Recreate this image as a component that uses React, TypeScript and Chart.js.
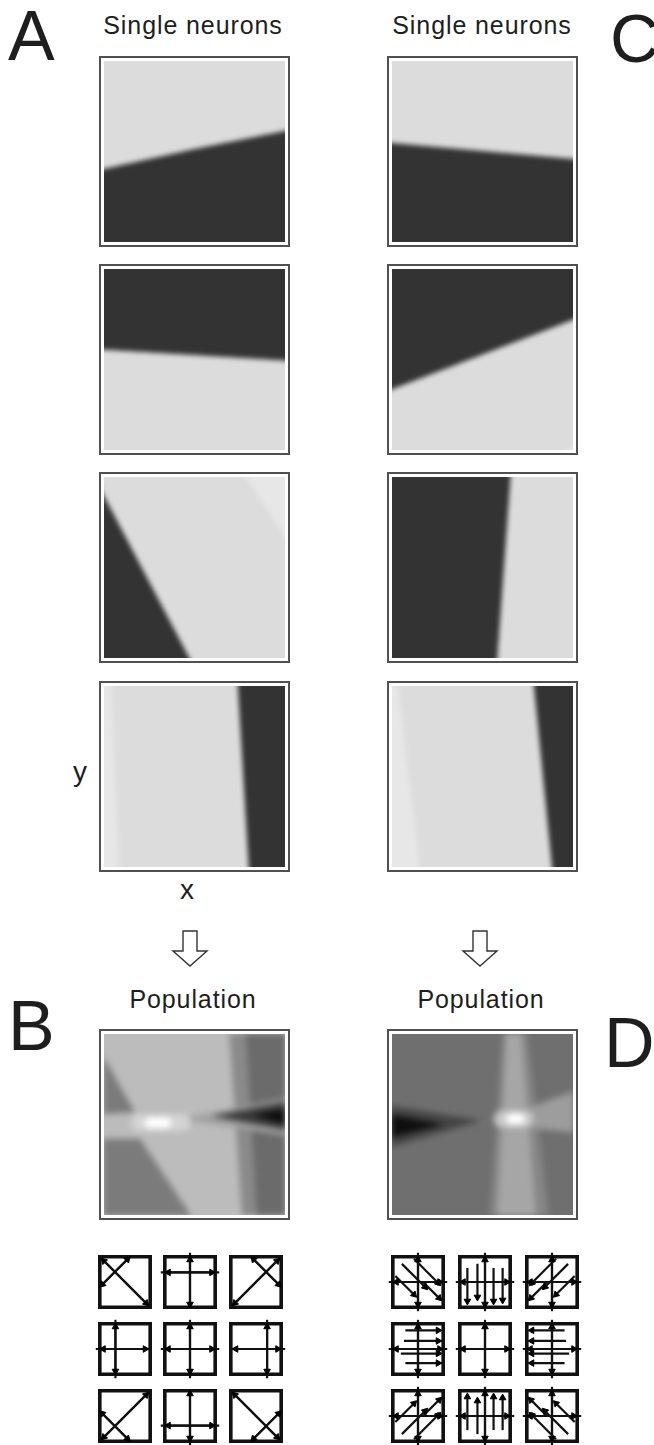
import React, { useEffect, useRef } from "react";
import { Chart, registerables } from "chart.js";

Chart.register(...registerables);

// ---------- DATA (unit coordinates inside each map: x to the right, y upward) ----------
// Single neurons, column A: dark (low-rate) regions and pale patches
const neuronA1Dark = [[0, 0], [0, 0.4], [0.5, 0.51], [1, 0.61], [1, 0]];
const neuronA2Dark = [[0, 1], [0, 0.555], [1, 0.495], [1, 1]];
const neuronA3Dark = [[0, 0], [0, 0.93], [0.49, 0]];
const neuronA3Pale = [[0.74, 1], [1, 1], [1, 0.6]];
const neuronA4Dark = [[0.72, 1], [1, 1], [1, 0], [0.78, 0]];
const neuronA4Pale = [[0, 1], [0.07, 1], [0.11, 0], [0, 0]];
// Single neurons, column C
const neuronC1Dark = [[0, 0], [0, 0.544], [1, 0.456], [1, 0]];
const neuronC2Dark = [[0, 1], [0, 0.336], [1, 0.72], [1, 1]];
const neuronC2Pale = [[0.88, 0], [1, 0], [1, 0.07]];
const neuronC3Dark = [[0, 0], [0, 1], [0.644, 1], [0.571, 0]];
const neuronC4Dark = [[0.76, 1], [1, 1], [1, 0], [0.86, 0]];
const neuronC4Pale = [[0, 1], [0.06, 1], [0.18, 0], [0, 0]];

// Population B
const popBStripMid = [[0.69, 1], [0.78, 1], [0.84, 0], [0.76, 0]];
const popBStripDark = [[0.78, 1], [1, 1], [1, 0], [0.84, 0]];
const popBWedgeUp = [[0, 0.87], [0.17, 0.57], [0, 0.56]];
const popBWedgeLow = [[0, 0], [0, 0.42], [0.2, 0.42], [0.48, 0]];
const popBStreakHalo = [[0.42, 0.53], [1, 0.64], [1, 0.44]];
const popBStreak = [[0.6, 0.545], [1, 0.62], [1, 0.47]];
const popBStreakCore = [[0.82, 0.55], [1, 0.58], [1, 0.5]];
const popBSpotHalo = [[0.2, 0.51], [0.26, 0.51], [0.32, 0.51], [0.38, 0.51], [0.43, 0.51]];
const popBSpotCore = [[0.26, 0.51], [0.3, 0.51], [0.34, 0.51]];

// Population D
const popDBandOuter = [[0.61, 1], [0.74, 1], [0.86, 0], [0.54, 0]];
const popDBandInner = [[0.63, 1], [0.71, 1], [0.79, 0], [0.58, 0]];
const popDArm = [[0.7, 0.57], [1, 0.68], [1, 0.46], [0.7, 0.49]];
const popDStreakHalo = [[0, 0.6], [0.48, 0.52], [0, 0.38]];
const popDStreakCore = [[0, 0.55], [0.28, 0.5], [0, 0.43]];
const popDSpotHalo = [[0.61, 0.53], [0.67, 0.53], [0.73, 0.53]];
const popDSpotCore = [[0.66, 0.53], [0.7, 0.53]];

// Vector-field cells: [x1, y1, x2, y2, heads] heads: 0 none, 1 at end, 2 both ends
const cellFrame = [[0, 0], [1, 0], [1, 1], [0, 1], [0, 0]];
const fieldB00 = [[0, 1, 1, 0, 0], [0.08, 0.92, 0.92, 0.08, 2], [0, 0.4, 0.6, 1, 0], [0.05, 0.45, 0.55, 0.95, 2]];
const fieldB01 = [[0.5, 1.08, 0.5, 0, 0], [0.5, 0.94, 0.5, 0.06, 2], [-0.08, 0.69, 1.08, 0.69, 0], [0.07, 0.69, 0.93, 0.69, 2]];
const fieldB02 = [[1, 1, 0, 0, 0], [0.92, 0.92, 0.08, 0.08, 2], [1, 0.4, 0.4, 1, 0], [0.95, 0.45, 0.45, 0.95, 2]];
const fieldB10 = [[0.31, -0.08, 0.31, 1.08, 0], [0.31, 0.06, 0.31, 0.94, 2], [-0.08, 0.5, 1, 0.5, 0], [0.07, 0.5, 0.9, 0.5, 2]];
const fieldB11 = [[0.5, -0.08, 0.5, 1.08, 0], [0.5, 0.06, 0.5, 0.94, 2], [-0.08, 0.5, 1.08, 0.5, 0], [0.07, 0.5, 0.93, 0.5, 2]];
const fieldB12 = [[0.72, -0.08, 0.72, 1.08, 0], [0.72, 0.06, 0.72, 0.94, 2], [0, 0.5, 1.08, 0.5, 0], [0.1, 0.5, 0.93, 0.5, 2]];
const fieldB20 = [[0, 0, 1, 1, 0], [0.08, 0.08, 0.92, 0.92, 2], [0, 0.6, 0.6, 0, 0], [0.05, 0.55, 0.55, 0.05, 2]];
const fieldB21 = [[0.5, 1, 0.5, -0.08, 0], [0.5, 0.94, 0.5, 0.06, 2], [-0.08, 0.31, 1.08, 0.31, 0], [0.07, 0.31, 0.93, 0.31, 2]];
const fieldB22 = [[1, 0, 0, 1, 0], [0.92, 0.08, 0.08, 0.92, 2], [1, 0.6, 0.4, 0, 0], [0.95, 0.55, 0.45, 0.05, 2]];

const fieldDCross = [[0.5, -0.08, 0.5, 1.08, 0], [0.5, 0.06, 0.5, 0.94, 2], [-0.08, 0.5, 1.08, 0.5, 0], [0.07, 0.5, 0.93, 0.5, 2]];
const fieldD00 = [[0.05, 0.62, 0.42, 0.25, 1], [0.18, 0.86, 0.64, 0.4, 1], [0.42, 0.96, 0.9, 0.48, 1], [0.6, 0.5, 0.92, 0.18, 1]];
const fieldD01 = [[0.15, 0.78, 0.15, 0.12, 1], [0.35, 0.86, 0.35, 0.2, 1], [0.67, 0.78, 0.67, 0.12, 1], [0.85, 0.78, 0.85, 0.14, 1]];
const fieldD02 = [[0.95, 0.62, 0.58, 0.25, 1], [0.82, 0.86, 0.36, 0.4, 1], [0.58, 0.96, 0.1, 0.48, 1], [0.4, 0.5, 0.08, 0.18, 1]];
const fieldD10 = [[0.25, 0.87, 0.9, 0.87, 1], [0.22, 0.66, 0.9, 0.66, 1], [0.16, 0.41, 0.9, 0.41, 1], [0.25, 0.22, 0.9, 0.22, 1]];
const fieldD11: number[][] = [];
const fieldD12 = [[0.75, 0.87, 0.1, 0.87, 1], [0.78, 0.66, 0.1, 0.66, 1], [0.84, 0.41, 0.1, 0.41, 1], [0.75, 0.22, 0.1, 0.22, 1]];
const fieldD20 = [[0.05, 0.38, 0.42, 0.75, 1], [0.18, 0.14, 0.64, 0.6, 1], [0.42, 0.04, 0.9, 0.52, 1], [0.6, 0.5, 0.92, 0.82, 1]];
const fieldD21 = [[0.15, 0.22, 0.15, 0.88, 1], [0.35, 0.14, 0.35, 0.8, 1], [0.67, 0.22, 0.67, 0.88, 1], [0.85, 0.22, 0.85, 0.86, 1]];
const fieldD22 = [[0.95, 0.38, 0.58, 0.75, 1], [0.82, 0.14, 0.36, 0.6, 1], [0.58, 0.04, 0.1, 0.52, 1], [0.4, 0.5, 0.08, 0.82, 1]];

const panelTitles = ["Single neurons", "Population"];
const panelLetters = ["A", "B", "C", "D"];
const axisLabels = ["x", "y"];

// ---------- STYLE ----------
const FONT = '"Liberation Sans", Arial, Helvetica, sans-serif';
const LIGHT = "#dcdcdc";
const DARK = "#333333";
const PALE = "#e7e7e7";

const toPts = (a: number[][]) => a.map((p) => ({ x: p[0], y: p[1] }));

function baseOptions(min: number, max: number): any {
  return {
    animation: false,
    responsive: false,
    maintainAspectRatio: false,
    events: [],
    layout: { padding: 0 },
    plugins: { legend: { display: false }, tooltip: { enabled: false }, title: { display: false } },
    scales: {
      x: { type: "linear", min, max, display: false },
      y: { type: "linear", min, max, display: false },
    },
  };
}

type Region = { pts: number[][]; color: string };
type Spot = { pts: number[][]; color: string; r: number };

function mapConfig(regions: Region[], spots: Spot[]) {
  const ds: any[] = [];
  // dataset 0 is drawn on top, so put spots first then regions reversed
  [...spots].reverse().forEach((s) =>
    ds.push({
      data: toPts(s.pts),
      showLine: false,
      fill: false,
      pointRadius: s.r,
      pointBackgroundColor: s.color,
      pointBorderWidth: 0,
      pointBorderColor: s.color,
    })
  );
  [...regions].reverse().forEach((r) =>
    ds.push({
      data: toPts(r.pts),
      fill: "shape",
      backgroundColor: r.color,
      borderColor: r.color,
      borderWidth: 1,
      pointRadius: 0,
      tension: 0,
    })
  );
  return { type: "line", data: { datasets: ds }, options: baseOptions(0, 1) };
}

function fieldConfig(segs: number[][], pad: number) {
  const heads: { x: number; y: number; r: number }[] = [];
  const ang = (dx: number, dy: number) => (Math.atan2(dx, dy) * 180) / Math.PI;
  segs.forEach((s) => {
    const [x1, y1, x2, y2, h] = s;
    if (h >= 1) heads.push({ x: x2, y: y2, r: ang(x2 - x1, y2 - y1) });
    if (h === 2) heads.push({ x: x1, y: y1, r: ang(x1 - x2, y1 - y2) });
  });
  const ds: any[] = [];
  ds.push({
    data: heads.map((h) => ({ x: h.x, y: h.y })),
    showLine: false,
    fill: false,
    pointStyle: "triangle",
    pointRadius: 3.8,
    pointRotation: heads.map((h) => h.r),
    pointBackgroundColor: "#000",
    pointBorderColor: "#000",
    pointBorderWidth: 1,
  });
  segs.forEach((s) =>
    ds.push({
      data: [{ x: s[0], y: s[1] }, { x: s[2], y: s[3] }],
      fill: false,
      borderColor: "#111",
      borderWidth: 2.2,
      pointRadius: 0,
    })
  );
  ds.push({
    data: toPts(cellFrame),
    fill: false,
    borderColor: "#111",
    borderWidth: 3.6,
    borderJoinStyle: "miter",
    borderCapStyle: "square",
    pointRadius: 0,
  });
  return { type: "line", data: { datasets: ds }, options: baseOptions(-pad, 1 + pad) };
}

function ChartCanvas({ w, h, make, style }: { w: number; h: number; make: () => any; style?: any }) {
  const ref = useRef<HTMLCanvasElement>(null);
  useEffect(() => {
    const chart = new Chart(ref.current as HTMLCanvasElement, make());
    return () => chart.destroy();
  }, []);
  return <canvas ref={ref} width={w} height={h} style={{ display: "block", width: w, height: h, ...style }} />;
}

function MapPanel({ left, top, bg, regions, spots = [], blur, crop }: any) {
  const size = 191;
  const inner = size - 4 - 6;
  const cw = inner + 2 * crop;
  return (
    <div
      style={{
        position: "absolute",
        left,
        top,
        width: size,
        height: size,
        boxSizing: "border-box",
        border: "2px solid #505050",
        padding: 3,
        background: "#fff",
      }}
    >
      <div style={{ position: "relative", width: inner, height: inner, overflow: "hidden", background: bg }}>
        <div style={{ position: "absolute", left: -crop, top: -crop }}>
          <ChartCanvas
            w={cw}
            h={cw}
            make={() => mapConfig(regions, spots)}
            style={{ background: bg, filter: `blur(${blur}px)` }}
          />
        </div>
      </div>
    </div>
  );
}

function FieldGrid({ lefts, tops, cells }: { lefts: number[]; tops: number[]; cells: number[][][][] }) {
  const box = 58;
  const margin = 9;
  const pad = margin / box;
  const c = box + 2 * margin;
  const out: any[] = [];
  cells.forEach((row, ri) =>
    row.forEach((segs, ci) =>
      out.push(
        <div key={`${ri}-${ci}`} style={{ position: "absolute", left: lefts[ci] - margin, top: tops[ri] - margin }}>
          <ChartCanvas w={c} h={c} make={() => fieldConfig(segs, pad)} />
        </div>
      )
    )
  );
  return <>{out}</>;
}

function Label({ text, left, top, size, width, align, spacing }: any) {
  return (
    <div
      style={{
        position: "absolute",
        left,
        top,
        width,
        textAlign: align || "left",
        fontFamily: FONT,
        fontSize: size,
        lineHeight: 1,
        letterSpacing: spacing || 0,
        color: "#1e1e1e",
        whiteSpace: "nowrap",
      }}
    >
      {text}
    </div>
  );
}

function DownArrow({ cx, top }: { cx: number; top: number }) {
  return (
    <svg width={38} height={38} style={{ position: "absolute", left: cx - 19, top }} viewBox="0 0 38 38">
      <polygon
        points="12,1 26,1 26,21 36,21 19,36 2,21 12,21"
        fill="#fff"
        stroke="#333"
        strokeWidth={1.4}
        strokeLinejoin="miter"
      />
    </svg>
  );
}

export default function App() {
  const colX = [99, 387];
  const rowY = [56, 264, 472, 681];
  const popY = 1029;
  const neuronA = [
    [{ pts: neuronA1Dark, color: DARK }],
    [{ pts: neuronA2Dark, color: DARK }],
    [{ pts: neuronA3Pale, color: PALE }, { pts: neuronA3Dark, color: DARK }],
    [{ pts: neuronA4Pale, color: PALE }, { pts: neuronA4Dark, color: DARK }],
  ];
  const neuronC = [
    [{ pts: neuronC1Dark, color: DARK }],
    [{ pts: neuronC2Pale, color: PALE }, { pts: neuronC2Dark, color: DARK }],
    [{ pts: neuronC3Dark, color: DARK }],
    [{ pts: neuronC4Pale, color: PALE }, { pts: neuronC4Dark, color: DARK }],
  ];
  const popB: Region[] = [
    { pts: popBStripMid, color: "#8a8a8a" },
    { pts: popBStripDark, color: "#6b6b6b" },
    { pts: popBWedgeUp, color: "#7b7b7b" },
    { pts: popBWedgeLow, color: "#7b7b7b" },
    { pts: popBStreakHalo, color: "#a0a0a0" },
    { pts: popBStreak, color: "#3a3a3a" },
    { pts: popBStreakCore, color: "#0c0c0c" },
  ];
  const popBSpots: Spot[] = [
    { pts: popBSpotHalo, color: "#d4d4d4", r: 9 },
    { pts: popBSpotCore, color: "#ffffff", r: 6 },
  ];
  const popD: Region[] = [
    { pts: popDBandOuter, color: "#868686" },
    { pts: popDBandInner, color: "#a6a6a6" },
    { pts: popDArm, color: "#9d9d9d" },
    { pts: popDStreakHalo, color: "#444444" },
    { pts: popDStreakCore, color: "#0e0e0e" },
  ];
  const popDSpots: Spot[] = [
    { pts: popDSpotHalo, color: "#c8c8c8", r: 9 },
    { pts: popDSpotCore, color: "#ffffff", r: 6 },
  ];
  const fieldsB = [
    [fieldB00, fieldB01, fieldB02],
    [fieldB10, fieldB11, fieldB12],
    [fieldB20, fieldB21, fieldB22],
  ];
  const fieldsD = [
    [fieldDCross.concat(fieldD00), fieldDCross.concat(fieldD01), fieldDCross.concat(fieldD02)],
    [fieldDCross.concat(fieldD10), fieldDCross.concat(fieldD11), fieldDCross.concat(fieldD12)],
    [fieldDCross.concat(fieldD20), fieldDCross.concat(fieldD21), fieldDCross.concat(fieldD22)],
  ];
  const gridTops = [1253, 1320, 1387];

  return (
    <div
      style={{
        position: "absolute",
        left: 0,
        top: 0,
        width: 654,
        height: 1445,
        background: "#fff",
        overflow: "hidden",
      }}
    >
      <Label text={panelLetters[0]} left={8} top={1} size={70} />
      <Label text={panelLetters[2]} left={610} top={4} size={68} />
      <Label text={panelLetters[1]} left={8} top={991} size={70} />
      <Label text={panelLetters[3]} left={604} top={1008} size={70} />

      <Label text={panelTitles[0]} left={93} top={13} size={25} width={200} align="center" spacing={0.9} />
      <Label text={panelTitles[0]} left={382} top={13} size={25} width={200} align="center" spacing={0.9} />

      {neuronA.map((regs, i) => (
        <MapPanel key={"a" + i} left={colX[0]} top={rowY[i]} bg={LIGHT} regions={regs} blur={2.4} crop={7} />
      ))}
      {neuronC.map((regs, i) => (
        <MapPanel key={"c" + i} left={colX[1]} top={rowY[i]} bg={LIGHT} regions={regs} blur={2.4} crop={7} />
      ))}

      <Label text={axisLabels[1]} left={73} top={758} size={28} />
      <Label text={axisLabels[0]} left={167} top={876} size={28} width={40} align="center" />

      <DownArrow cx={190} top={930} />
      <DownArrow cx={480} top={930} />

      <Label text={panelTitles[1]} left={93} top={987} size={25} width={200} align="center" spacing={0.9} />
      <Label text={panelTitles[1]} left={381} top={987} size={25} width={200} align="center" spacing={0.9} />

      <MapPanel left={colX[0]} top={popY} bg="#bcbcbc" regions={popB} spots={popBSpots} blur={3.4} crop={10} />
      <MapPanel left={colX[1]} top={popY} bg="#6f6f6f" regions={popD} spots={popDSpots} blur={3.4} crop={10} />

      <FieldGrid lefts={[96, 161, 227]} tops={gridTops} cells={fieldsB} />
      <FieldGrid lefts={[389, 456, 523]} tops={gridTops} cells={fieldsD} />
    </div>
  );
}
